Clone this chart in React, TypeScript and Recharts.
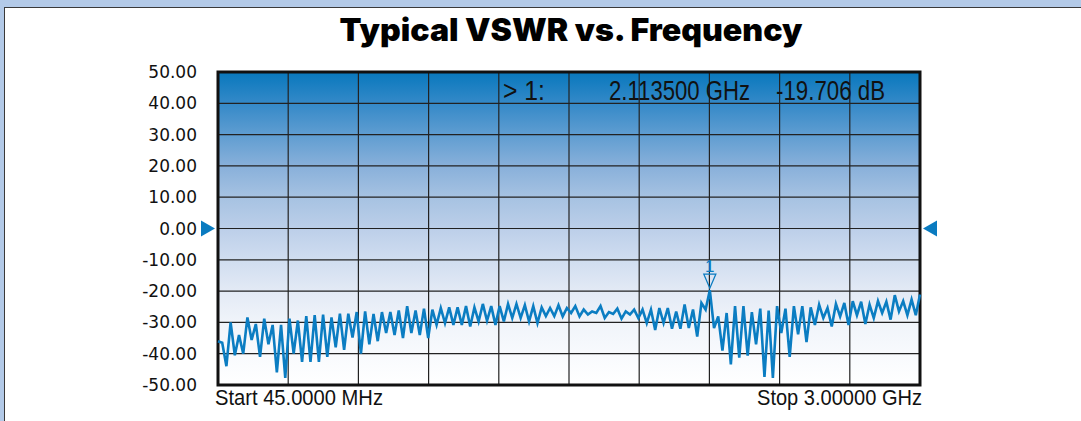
import * as React from 'react';
import { CartesianGrid, Line, LineChart, ReferenceArea, ReferenceDot, XAxis, YAxis } from 'recharts';

// sweep trace, dB per sweep point
const traceDb = [
    -36, -36.5, -44, -30, -40.5, -34, -40, -28.4, -35.6, -30.5,
    -41, -28.8, -37, -30.8, -46, -30.8, -47.7, -28.8, -40, -29.4,
    -42.6, -28, -42.6, -27.7, -42.6, -27.5, -41, -28.4, -38, -27.2,
    -38.8, -27.2, -34.8, -26.7, -40, -26.5, -37, -27.3, -36, -26.7,
    -33.4, -26.7, -34, -26.2, -35, -24.8, -33.4, -26.2, -34, -25.6,
    -35, -25.9, -30.8, -25.4, -30.2, -25.2, -30.8, -25.2, -30.8, -24.8,
    -31.3, -25.2, -29.7, -24.1, -29.5, -24.8, -30.8, -24.8, -29.7, -24.1,
    -28.6, -24.1, -28.6, -24.5, -29.7, -24.8, -30.2, -25.2, -28, -25.4,
    -28,
    -24.5, -28.1, -25.4, -27, -24.8, -28.1, -25.9, -27.5, -26.5, -27,
    -24.8, -28.6, -26.7, -27.3, -25.6, -28.8, -26.5, -27.5, -25.9, -28.6,
    -25.9, -30.2, -25.9, -32.4, -25.4, -30.2, -25.4, -32, -26.5, -32,
    -24.3, -31.8, -25.9, -34.5, -23.8, -25.9,
    -19.706,
    -31.8, -28.1,
    -39, -27, -43.4, -24.8, -41.3, -24.8, -40.6, -26.7, -37, -25.6,
    -47.4, -26.2, -47.7, -24.8, -33.4, -25.6, -41, -24.8, -33.8, -24.8,
    -36.3, -25.2, -30.8, -24.3, -28.6, -25.4, -31.3, -24.1, -28.1, -23.8,
    -30.8, -23.2, -27.7, -23.4, -30.5, -24.3, -28.6, -23.2, -27, -23.4,
    -29.1, -21.3, -26.5, -23.2, -27.7, -22.7, -27.7, -21.1,
];

const yTicks = [50, 40, 30, 20, 10, 0, -10, -20, -30, -40, -50];
const divisions = [0, 1, 2, 3, 4, 5, 6, 7, 8, 9, 10];
const sweepLabels = ['Start 45.0000 MHz', 'Stop 3.00000 GHz'];

const markerIndex = 117;
const markerName = '1';
const markerFreq = '2.113500 GHz';
const markerDb = -19.706;

const lastIdx = traceDb.length - 1;
const chartData = traceDb.map((db, idx) => ({ idx, db }));

// no narrow face installed, so condensed text is squeezed with textLength
const narrow = '"Liberation Sans", Arial, sans-serif';

function SweepTick(props: any) {
    const { x, y, payload } = props;
    const first = payload.value === 0;
    return (
        <text x={first ? x - 3 : x - 163} y={y + 18} textLength={first ? 168 : 165}
            lengthAdjust="spacingAndGlyphs" fontFamily={narrow} fontSize={22} fill="#111">
            {first ? sweepLabels[0] : sweepLabels[1]}
        </text>
    );
}

function LevelArrow(props: any) {
    const { cx, cy, side } = props;
    if (side === 'left') {
        return <path d={`M${cx - 17},${cy - 8} L${cx - 3},${cy} L${cx - 17},${cy + 8} Z`} fill="#0a7bc0" />;
    }
    return <path d={`M${cx + 17},${cy - 8} L${cx + 3},${cy} L${cx + 17},${cy + 8} Z`} fill="#0a7bc0" />;
}

function MarkerGlyph(props: any) {
    const { cx, cy } = props;
    return (
        <g>
            <path d={`M${cx - 6},${cy - 16} L${cx + 6},${cy - 16} L${cx},${cy - 2} Z`}
                fill="none" stroke="#0a7bc0" strokeWidth={1.3} />
            <text x={cx} y={cy - 18} textAnchor="middle" fontFamily={narrow} fontSize={17} fill="#0a7bc0">
                {markerName}
            </text>
        </g>
    );
}

const divisionLines = ({ offset }: any) => divisions.map((d) => offset.left + (d * offset.width) / 10);

export default class App extends React.Component {
    public render() {
        return (
            <div style={{ position: 'fixed', left: 0, top: 0, width: 1081, height: 421, background: '#b3cae8', overflow: 'hidden' }}>
                <div style={{
                    position: 'absolute', left: 4, top: 7, width: 1100, height: 430, background: '#fff',
                    borderTop: '1.5px solid #3a3a3a', borderLeft: '1.5px solid #3a3a3a',
                }} />
                <svg width={0} height={0} style={{ position: 'absolute' }}>
                    <defs>
                        <linearGradient id="plotBg" x1="0" y1="0" x2="0" y2="1">
                            <stop offset="0" stopColor="#0878bd" />
                            <stop offset="0.1" stopColor="#3489c8" />
                            <stop offset="0.2" stopColor="#5f9dd1" />
                            <stop offset="0.3" stopColor="#88b0da" />
                            <stop offset="0.4" stopColor="#a6c2e2" />
                            <stop offset="0.5" stopColor="#bccfe9" />
                            <stop offset="0.6" stopColor="#d0ddf0" />
                            <stop offset="0.7" stopColor="#e3eaf5" />
                            <stop offset="0.8" stopColor="#f0f4fa" />
                            <stop offset="0.9" stopColor="#f8fafd" />
                            <stop offset="1" stopColor="#ffffff" />
                        </linearGradient>
                    </defs>
                </svg>
                <div style={{ position: 'absolute', left: 0, top: 0 }}>
                    <LineChart width={1081} height={421} data={chartData}
                        margin={{ top: 72, right: 161, bottom: 6, left: 158 }}>
                        <XAxis dataKey="idx" type="number" domain={[0, lastIdx]} ticks={[0, lastIdx]} interval={0}
                            axisLine={false} tickLine={false} tickSize={0} height={30} tick={<SweepTick />} />
                        <YAxis type="number" domain={[-50, 50]} allowDataOverflow ticks={yTicks} interval={0} width={60}
                            axisLine={false} tickLine={false} tickSize={0} tickMargin={21}
                            tickFormatter={(v: number) => v.toFixed(2)}
                            tick={{ fontFamily: '"DejaVu Sans", Verdana, sans-serif', fontSize: 17, fill: '#111' }} />
                        <CartesianGrid fill="url(#plotBg)" fillOpacity={1} stroke="#222" strokeWidth={1.2}
                            verticalCoordinatesGenerator={divisionLines} />
                        <Line type="linear" dataKey="db" stroke="#0b7dc2" strokeWidth={2.6}
                            dot={false} isAnimationActive={false} />
                        <ReferenceArea x1={0} x2={lastIdx} y1={-50} y2={50}
                            fill="none" stroke="#111" strokeWidth={3} />
                        <ReferenceDot x={0} y={0} ifOverflow="visible" shape={(p: any) => <LevelArrow {...p} side="left" />} />
                        <ReferenceDot x={lastIdx} y={0} ifOverflow="visible" shape={(p: any) => <LevelArrow {...p} side="right" />} />
                        <ReferenceDot x={markerIndex} y={markerDb} ifOverflow="visible" shape={(p: any) => <MarkerGlyph {...p} />} />
                    </LineChart>
                </div>
                <svg width={1081} height={421} style={{ position: 'absolute', left: 0, top: 0, pointerEvents: 'none' }}>
                    <text x={571} y={41} textAnchor="middle" textLength={463} lengthAdjust="spacingAndGlyphs"
                        fontFamily="Inter, Lato, sans-serif" fontWeight={900} fontSize={31} fill="#000">
                        Typical VSWR vs. Frequency
                    </text>
                    <g fontFamily={narrow} fontSize={27} fill="#111">
                        <text x={503} y={100} textLength={42} lengthAdjust="spacingAndGlyphs">{'> ' + markerName + ':'}</text>
                        <text x={609} y={100} textLength={141} lengthAdjust="spacingAndGlyphs">{markerFreq}</text>
                        <text x={776} y={100} textLength={109} lengthAdjust="spacingAndGlyphs">{markerDb.toFixed(3) + ' dB'}</text>
                    </g>
                </svg>
            </div>
        );
    }
}
